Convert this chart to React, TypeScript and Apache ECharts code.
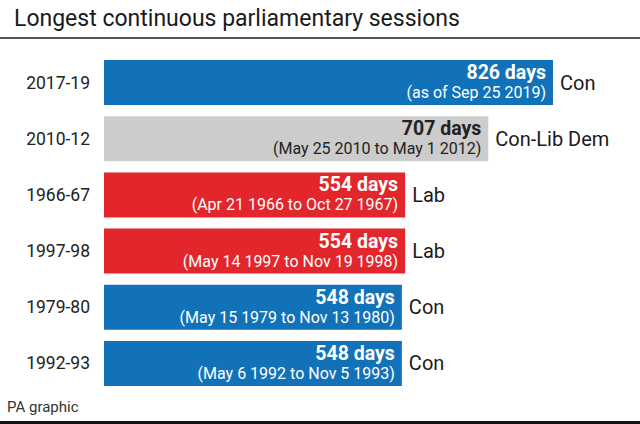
import React, { useEffect, useRef } from "react";
import * as echarts from "echarts";

const categories = ["2017-19", "2010-12", "1966-67", "1997-98", "1979-80", "1992-93"];
const days = [826, 707, 554, 554, 548, 548];
const parties = ["Con", "Con-Lib Dem", "Lab", "Lab", "Con", "Con"];
const notes = [
  "(as of Sep 25 2019)",
  "(May 25 2010 to May 1 2012)",
  "(Apr 21 1966 to Oct 27 1967)",
  "(May 14 1997 to Nov 19 1998)",
  "(May 15 1979 to Nov 13 1980)",
  "(May 6 1992 to Nov 5 1993)",
];
const partyColors: Record<string, string> = {
  Con: "#1172b9",
  "Con-Lib Dem": "#cccccc",
  Lab: "#e3252c",
};

const FONT = "Roboto, 'Liberation Sans', sans-serif";

export default function App() {
  const ref = useRef<HTMLDivElement>(null);
  useEffect(() => {
    if (!ref.current) return;
    const chart = echarts.init(ref.current, undefined, { renderer: "svg" });
    const barData = days.map((v, i) => {
      const dark = parties[i] === "Con-Lib Dem";
      const c = dark ? "#222222" : "#ffffff";
      return {
        value: v,
        itemStyle: { color: partyColors[parties[i]] },
        label: {
          rich: {
            a: { fontSize: 19.5, fontWeight: "bold", color: c, fontFamily: FONT, lineHeight: 20, align: "right" },
            b: { fontSize: 16, color: c, fontFamily: FONT, lineHeight: 20, align: "right" },
          },
        },
      };
    });
    chart.setOption({
      animation: false,
      backgroundColor: "#ffffff",
      title: {
        text: "Longest continuous parliamentary sessions",
        left: 9,
        top: 2,
        textStyle: { fontSize: 23, fontWeight: "normal", color: "#1a1a1a", fontFamily: FONT },
      },
      graphic: [
        { type: "line", shape: { x1: 0, y1: 38, x2: 640, y2: 38 }, style: { stroke: "#555555", lineWidth: 2 } },
        { type: "line", shape: { x1: 0, y1: 422.5, x2: 640, y2: 422.5 }, style: { stroke: "#111111", lineWidth: 3 } },
        {
          type: "text",
          left: 7,
          top: 399,
          style: { text: "PA graphic", fontSize: 15, fill: "#333333", fontFamily: FONT },
        },
      ],
      grid: { left: 104, top: 54.5, width: 489.2, height: 337 },
      xAxis: { type: "value", min: 0, max: 900, show: false },
      yAxis: {
        type: "category",
        data: categories,
        inverse: true,
        axisLine: { show: false },
        axisTick: { show: false },
        axisLabel: { fontSize: 17.5, color: "#222222", margin: 14, fontFamily: FONT },
      },
      series: [
        {
          type: "bar",
          data: barData,
          barWidth: 45,
          label: {
            show: true,
            position: "insideRight",
            distance: 7,
            formatter: (p: any) => `{a|${p.value} days}\n{b|${notes[p.dataIndex]}}`,
          },
        },
        {
          type: "bar",
          data: days,
          barWidth: 45,
          barGap: "-100%",
          itemStyle: { color: "rgba(0,0,0,0)" },
          silent: true,
          label: {
            show: true,
            position: "right",
            distance: 7,
            fontSize: 20,
            color: "#1a1a1a",
            fontFamily: FONT,
            formatter: (p: any) => parties[p.dataIndex],
          },
        },
      ],
    });
    return () => chart.dispose();
  }, []);
  return <div ref={ref} style={{ width: 640, height: 424, position: "absolute", left: 0, top: 0 }} />;
}
